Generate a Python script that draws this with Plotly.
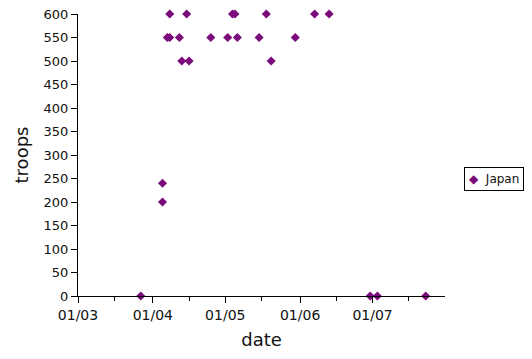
import plotly.graph_objects as go

dates = [
    "2000-03-27", "2000-04-05", "2000-04-05", "2000-04-07", "2000-04-08",
    "2000-04-08", "2000-04-12", "2000-04-13", "2000-04-15", "2000-04-16",
    "2000-04-25", "2000-05-02", "2000-05-04", "2000-05-05", "2000-05-06",
    "2000-05-15", "2000-05-18", "2000-05-20", "2000-05-30", "2000-06-07",
    "2000-06-13", "2000-06-30", "2000-07-03", "2000-07-23",
]
troops = [
    0, 240, 200, 550, 550,
    600, 550, 500, 600, 500,
    550, 550, 600, 600, 550,
    550, 600, 500, 550, 600,
    600, 0, 0, 0,
]
series_name = "Japan"
major_ticks = ["2000-03-01", "2000-04-01", "2000-05-01", "2000-06-01", "2000-07-01"]
major_labels = ["01/03", "01/04", "01/05", "01/06", "01/07"]
minor_ticks = ["2000-03-16", "2000-04-16", "2000-05-16", "2000-06-16", "2000-07-16"]
y_ticks = list(range(0, 601, 50))
color = "#7b0a7b"

fig = go.Figure()
fig.add_trace(go.Scatter(
    x=dates, y=troops, mode="markers", name=series_name,
    marker=dict(symbol="diamond", size=7, color=color),
    cliponaxis=False, showlegend=False,
))

# compact boxed legend
fig.add_annotation(
    xref="paper", yref="paper", x=1.052, y=0.415, xanchor="left", yanchor="middle",
    text=f"<span style='color:{color}'>◆</span>  {series_name}",
    showarrow=False, bordercolor="black", borderwidth=1, borderpad=4,
    font=dict(size=12, color="#111"), bgcolor="white",
)

fig.update_layout(
    width=532, height=359,
    margin=dict(l=78, r=87, t=14, b=63, autoexpand=False),
    paper_bgcolor="white", plot_bgcolor="white",
    font=dict(family="DejaVu Sans", size=13, color="#111"),
    showlegend=False,
    xaxis=dict(
        type="date", range=["2000-03-01", "2000-07-31"],
        tickmode="array", tickvals=major_ticks, ticktext=major_labels,
        tickfont=dict(size=14),
        ticks="outside", ticklen=6, tickcolor="black",
        showline=True, linecolor="black", linewidth=1,
        showgrid=False, zeroline=False, automargin=False,
        minor=dict(tickmode="array", tickvals=minor_ticks, ticks="outside",
                   ticklen=4, tickcolor="black", showgrid=False),
        title=dict(text="date", font=dict(size=18), standoff=11),
    ),
    yaxis=dict(
        range=[0, 600], tickmode="array", tickvals=y_ticks,
        tickfont=dict(size=13),
        ticks="outside", ticklen=6, tickcolor="black",
        showline=True, linecolor="black", linewidth=1,
        showgrid=False, zeroline=False, automargin=False,
        title=dict(text="troops", font=dict(size=18), standoff=10),
    ),
)

fig.write_html("out.html")
